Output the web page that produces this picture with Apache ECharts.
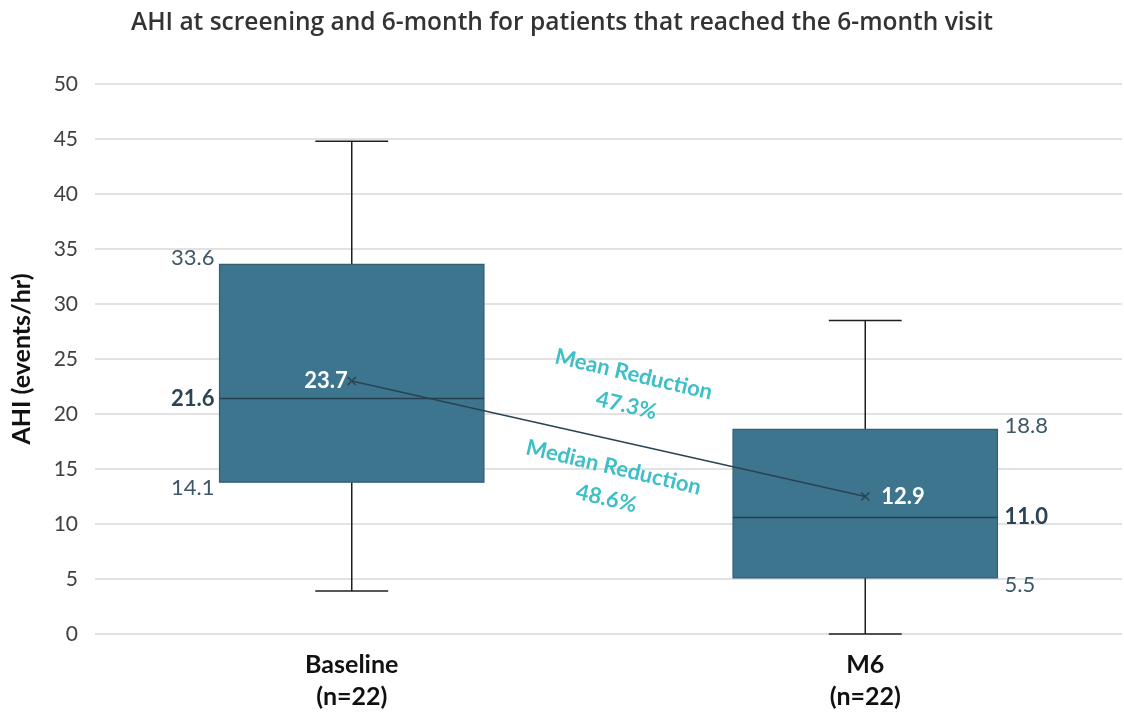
<!DOCTYPE html>
<html>
<head>
<meta charset="utf-8">
<script src="https://cdn.jsdelivr.net/npm/echarts@6/dist/echarts.min.js"></script>
<style>html,body{margin:0;padding:0;background:#fff}#c{width:1124px;height:716px}</style>
</head>
<body>
<div id="c"></div>
<script>
// ---- data ----
const categories = ['Baseline\n(n=22)', 'M6\n(n=22)'];
const whiskerMin = [3.9, 0];
const q1 = [13.8, 5.1];
const median = [21.4, 10.6];
const q3 = [33.6, 18.6];
const whiskerMax = [44.8, 28.5];
const means = [23.0, 12.5];
const q3Labels = ['33.6', '18.8'];
const medianLabels = ['21.6', '11.0'];
const q1Labels = ['14.1', '5.5'];
const meanLabels = ['23.7', '12.9'];
const labelSide = ['left', 'right'];
const yMin = 0, yMax = 50, yStep = 5;
const titleText = 'AHI at screening and 6-month for patients that reached the 6-month visit';
const yAxisName = 'AHI (events/hr)';
const meanNote = 'Mean Reduction\n47.3%';
const medianNote = 'Median Reduction\n48.6%';

const FONT = 'Lato, "Open Sans", sans-serif';
const boxData = categories.map((c, i) => [i, whiskerMin[i], q1[i], median[i], q3[i], whiskerMax[i]]);

const chart = echarts.init(document.getElementById('c'), null, {renderer: 'canvas'});

function renderBox(params, api) {
  const i = api.value(0);
  const x = api.coord([i, 0])[0];
  const band = api.size([1, 0])[0];
  const bw = band * 0.515, cw = band * 0.142;
  const yMn = api.coord([i, api.value(1)])[1];
  const yQ1 = api.coord([i, api.value(2)])[1];
  const yMd = api.coord([i, api.value(3)])[1];
  const yQ3 = api.coord([i, api.value(4)])[1];
  const yMx = api.coord([i, api.value(5)])[1];
  const lineStyle = {stroke: '#1f1f1f', lineWidth: 1.5};
  const left = x - bw / 2, right = x + bw / 2;
  const side = labelSide[i];
  const lx = side === 'left' ? left - 5 : right + 7;
  const align = side === 'left' ? 'right' : 'left';
  const lblStyle = (t, y, bold) => ({
    type: 'text',
    style: {text: t, x: lx, y: y, align: align, verticalAlign: 'middle',
      fill: bold ? '#2b4352' : '#3d5769', font: (bold ? 'bold ' : '') + '22px ' + FONT}
  });
  const meanY = api.coord([i, means[i]])[1];
  const meanX = x;
  return {
    type: 'group',
    children: [
      {type: 'line', shape: {x1: x, y1: yMx, x2: x, y2: yQ3}, style: lineStyle},
      {type: 'line', shape: {x1: x, y1: yQ1, x2: x, y2: yMn}, style: lineStyle},
      {type: 'line', shape: {x1: x - cw / 2, y1: yMx, x2: x + cw / 2, y2: yMx}, style: lineStyle},
      {type: 'line', shape: {x1: x - cw / 2, y1: yMn, x2: x + cw / 2, y2: yMn}, style: lineStyle},
      {type: 'rect', shape: {x: left, y: yQ3, width: bw, height: yQ1 - yQ3},
        style: {fill: '#3d758f', stroke: '#335f73', lineWidth: 1.2}},
      {type: 'line', shape: {x1: left, y1: yMd, x2: right, y2: yMd}, style: {stroke: '#24404e', lineWidth: 1.5}},
      lblStyle(q3Labels[i], yQ3 + (side === 'left' ? -6 : -3), false),
      lblStyle(medianLabels[i], yMd, true),
      lblStyle(q1Labels[i], yQ1 + (side === 'left' ? 6 : 7), false),
      {type: 'text', style: {text: meanLabels[i], x: side === 'left' ? meanX - 4 : meanX + 16, y: meanY,
        align: side === 'left' ? 'right' : 'left', verticalAlign: 'middle',
        fill: '#ffffff', font: 'bold 22px ' + FONT}}
    ]
  };
}

chart.setOption({
  animation: false,
  title: {
    text: titleText, left: 'center', top: 6,
    textStyle: {fontFamily: '"Open Sans", sans-serif', fontSize: 24.5, fontWeight: 600, color: '#333333'}
  },
  grid: {left: 95, right: 2, top: 84, bottom: 82},
  xAxis: {
    type: 'category', data: categories,
    axisLine: {show: false}, axisTick: {show: false},
    axisLabel: {fontFamily: FONT, fontSize: 25, fontWeight: 'bold', color: '#111', lineHeight: 32, margin: 15}
  },
  yAxis: {
    type: 'value', min: yMin, max: yMax, interval: yStep,
    name: yAxisName, nameLocation: 'middle', nameGap: 61,
    nameTextStyle: {fontFamily: FONT, fontSize: 25, fontWeight: 'bold', color: '#111'},
    axisLine: {show: false}, axisTick: {show: false},
    axisLabel: {fontFamily: FONT, fontSize: 21, color: '#404040', margin: 17},
    splitLine: {lineStyle: {color: '#d9d9d9', width: 1.5}}
  },
  series: [
    {type: 'custom', data: boxData, renderItem: renderBox, z: 2},
    {
      type: 'line', data: means, z: 5,
      symbol: 'path://M0,0L10,10M10,0L0,10', symbolSize: 8,
      lineStyle: {color: '#2a4352', width: 1.5},
      itemStyle: {color: '#2a4352', borderColor: '#2a4352', borderWidth: 1.5}
    }
  ],
  graphic: [
    {type: 'text', x: 630, y: 390, rotation: -0.23, z: 10,
      style: {text: meanNote, x: 0, y: 0, align: 'center', verticalAlign: 'middle',
        fill: '#3dbfc7', font: 'bold 22px ' + FONT, lineHeight: 32}},
    {type: 'text', x: 610, y: 483, rotation: -0.23, z: 10,
      style: {text: medianNote, x: 0, y: 0, align: 'center', verticalAlign: 'middle',
        fill: '#3dbfc7', font: 'bold 22px ' + FONT, lineHeight: 32}}
  ]
});
</script>
</body>
</html>
